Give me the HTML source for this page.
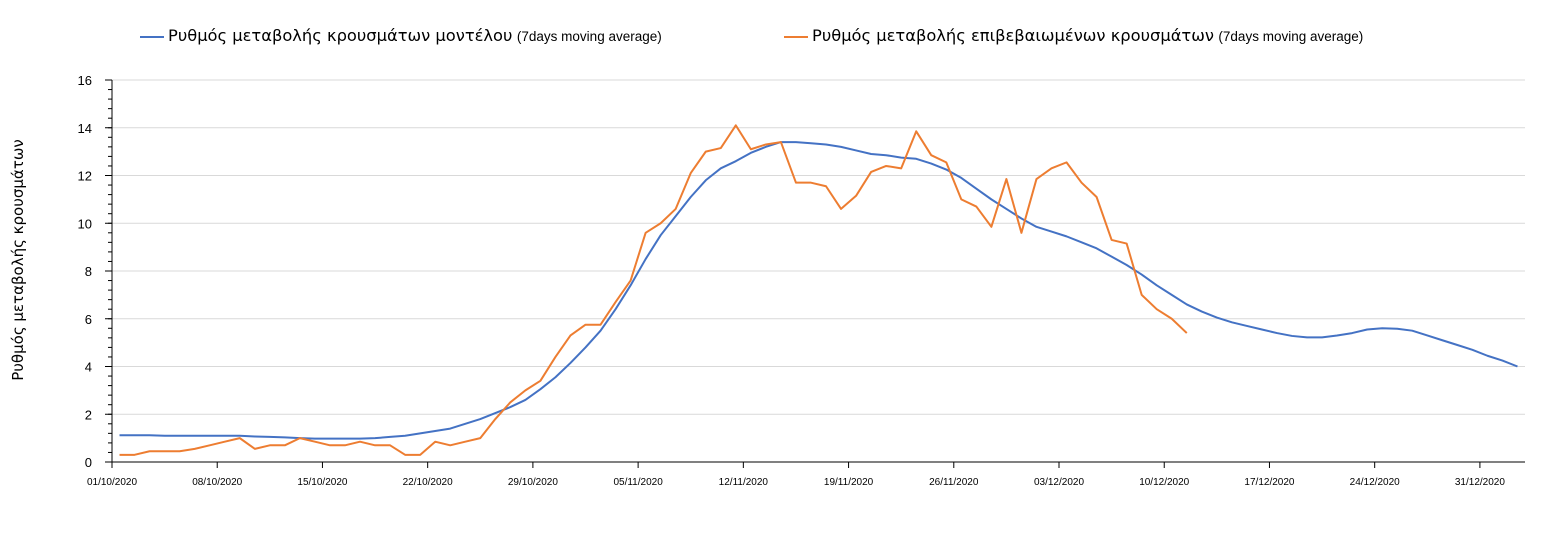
<!DOCTYPE html>
<html><head><meta charset="utf-8"><style>
body{margin:0;background:#fff;font-family:"Liberation Sans","DejaVu Sans",sans-serif}
svg text{font-family:"Liberation Sans","DejaVu Sans",sans-serif}
</style></head><body>
<svg id="c" width="1565" height="552"></svg>
<script>
const categories=["01/10/2020","08/10/2020","15/10/2020","22/10/2020","29/10/2020","05/11/2020","12/11/2020","19/11/2020","26/11/2020","03/12/2020","10/12/2020","17/12/2020","24/12/2020","31/12/2020"];
const yTicks=[0,2,4,6,8,10,12,14,16];
const modelSeries=[1.12,1.12,1.12,1.1,1.1,1.1,1.1,1.1,1.1,1.07,1.05,1.03,1.0,0.98,0.98,0.98,0.98,1.0,1.05,1.1,1.2,1.3,1.4,1.6,1.8,2.05,2.3,2.6,3.05,3.55,4.15,4.8,5.5,6.4,7.4,8.5,9.5,10.3,11.1,11.8,12.3,12.6,12.95,13.2,13.4,13.4,13.35,13.3,13.2,13.05,12.9,12.85,12.75,12.7,12.5,12.25,11.9,11.45,11.0,10.6,10.2,9.85,9.65,9.45,9.2,8.95,8.6,8.25,7.85,7.4,7.0,6.6,6.3,6.05,5.85,5.7,5.55,5.4,5.28,5.22,5.22,5.3,5.4,5.55,5.6,5.58,5.5,5.3,5.1,4.9,4.7,4.45,4.25,4.0];
const confirmedSeries=[0.3,0.3,0.45,0.45,0.45,0.55,0.7,0.85,1.0,0.55,0.7,0.7,1.0,0.85,0.7,0.7,0.85,0.7,0.7,0.3,0.3,0.85,0.7,0.85,1.0,1.8,2.5,3.0,3.4,4.4,5.3,5.75,5.75,6.7,7.6,9.6,10.0,10.6,12.1,13.0,13.15,14.1,13.1,13.3,13.4,11.7,11.7,11.55,10.6,11.15,12.15,12.4,12.3,13.85,12.85,12.55,11.0,10.7,9.85,11.85,9.6,11.85,12.3,12.55,11.7,11.1,9.3,9.15,7.0,6.4,6.0,5.4];
const NS='http://www.w3.org/2000/svg';
const svg=document.getElementById('c');
const X0=112,X1=1525,Y0=462,Y1=80,DAYS=94,step=(X1-X0)/DAYS;
const xb=i=>X0+i*step, xc=i=>X0+(i+0.5)*step, y=v=>Y0-(v/16)*(Y0-Y1);
function mk(t,a,txt){const e=document.createElementNS(NS,t);for(const k in a)e.setAttribute(k,a[k]);if(txt!=null)e.textContent=txt;svg.appendChild(e);return e;}
yTicks.forEach(v=>{
 if(v>0){const g=mk('line',{x1:X0,x2:X1,y1:y(v),y2:y(v),stroke:'#d9d9d9','stroke-width':1});
 
 }
 const t=mk('text',{x:92,y:y(v)+5,'text-anchor':'end','font-size':13,fill:'#000'},v);
 
 
 mk('line',{x1:X0-7,x2:X0,y1:y(v),y2:y(v),stroke:'#000'});
});
for(let v=0.4;v<16;v+=0.4){mk('line',{x1:X0-4,x2:X0,y1:y(v),y2:y(v),stroke:'#000'});}
const ya=mk('line',{x1:X0,x2:X0,y1:Y1,y2:Y0,stroke:'#000'});


const xa=mk('line',{x1:X0,x2:X1,y1:Y0,y2:Y0,stroke:'#000'});


categories.forEach((c,k)=>{
 const xx=xb(k*7);
 mk('line',{x1:xx,x2:xx,y1:Y0,y2:Y0+6,stroke:'#000'});
 const t=mk('text',{x:xx,y:485,'text-anchor':'middle','font-size':10,fill:'#000'},c);
 
 
});
function line(arr,col,name){
 const p=mk('polyline',{points:arr.map((v,i)=>xc(i)+','+y(v)).join(' '),fill:'none',stroke:col,'stroke-width':2,'stroke-linejoin':'round'});
 
 
}
line(modelSeries,'#4472c4','model-series-line');
line(confirmedSeries,'#ed7d31','confirmed-series-line');
</script>
<div style="position:absolute;left:140px;top:26px;font-size:16px;white-space:nowrap">
<span style="display:inline-block;width:24px;height:2px;background:#4472c4;vertical-align:middle;margin-right:4px"></span><span style="font-family:'DejaVu Sans',sans-serif;font-size:16.3px">Ρυθμός μεταβολής κρουσμάτων μοντέλου</span> <span style="font-size:13.5px">(7days moving average)</span></div>
<div style="position:absolute;left:784px;top:26px;font-size:16px;white-space:nowrap">
<span style="display:inline-block;width:24px;height:2px;background:#ed7d31;vertical-align:middle;margin-right:4px"></span><span style="font-family:'DejaVu Sans',sans-serif;font-size:16.3px">Ρυθμός μεταβολής επιβεβαιωμένων κρουσμάτων</span> <span style="font-size:13.5px">(7days moving average)</span></div>
<div style="position:absolute;left:18px;top:260px;transform:translate(-50%,-50%) rotate(-90deg);font-family:'DejaVu Sans',sans-serif;font-size:15px;white-space:nowrap">Ρυθμός μεταβολής κρουσμάτων</div>
</body></html>
